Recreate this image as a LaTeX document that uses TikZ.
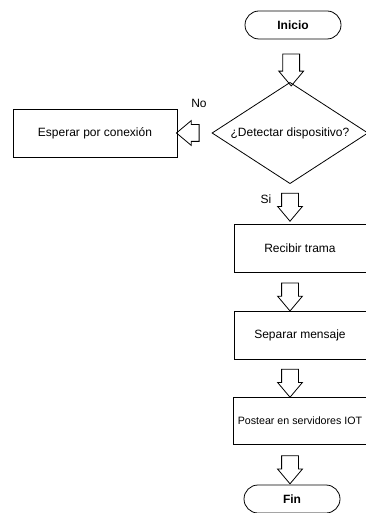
\documentclass[tikz,border=0pt]{standalone}
\usepackage{fontspec}
\setmainfont{Liberation Sans}
\usetikzlibrary{shapes.geometric,shapes.arrows}

\begin{document}
\begin{tikzpicture}[x=0.75pt, y=-0.75pt, font=\fontsize{9}{11}\selectfont, line width=0.6pt,
    term/.style={rectangle, draw, rounded corners=10.5pt, minimum width=72pt, minimum height=21pt, font=\fontsize{9}{11}\selectfont\bfseries},
    block/.style={rectangle, draw, minimum width=99pt, minimum height=35.5pt},
    decision/.style={diamond, draw, minimum width=117pt, minimum height=76pt, aspect=1.5, inner sep=0pt},
    barrow/.style={single arrow, draw, shape border rotate=270, minimum height=21pt, minimum width=18pt, single arrow head extend=3pt, single arrow tip angle=80, inner sep=6pt}]

    \useasboundingbox (0,0) rectangle (366,513);

    \node [term] (inicio) at (293,25) {Inicio};
    \node [decision] (det) at (290,133) {¿Detectar dispositivo?};
    \node [block, minimum width=123pt, minimum height=36pt] (esp) at (95,133) {Esperar por conexión};
    \node [block] (rec) at (300,248.5) {Recibir trama};
    \node [block] (sep) at (300,335.5) {Separar mensaje};
    \node [block, font=\fontsize{8}{10}\selectfont] (post) at (300,421) {Postear en servidores IOT};
    \node [term] (fin) at (292,499) {Fin};

    \node (no) at (199,103) {No};
    \node (si) at (266,199) {Si};

    \path (inicio.south) -- node[barrow, pos=.6, minimum height=24pt] {} (det.north);
    \path (det.west) -- node[barrow, pos=.55, shape border rotate=180, minimum height=17pt, inner xsep=1pt] {} (esp.east);
    \path (det.south) -- node[barrow, pos=.45] {} (det.south |- rec.north);
    \path (rec.south -| det) -- node[barrow] {} (sep.north -| det);
    \path (sep.south -| det) -- node[barrow] {} (post.north -| det);
    \path (post.south -| det) -- node[barrow] {} (fin.north -| det);
\end{tikzpicture}
\end{document}
